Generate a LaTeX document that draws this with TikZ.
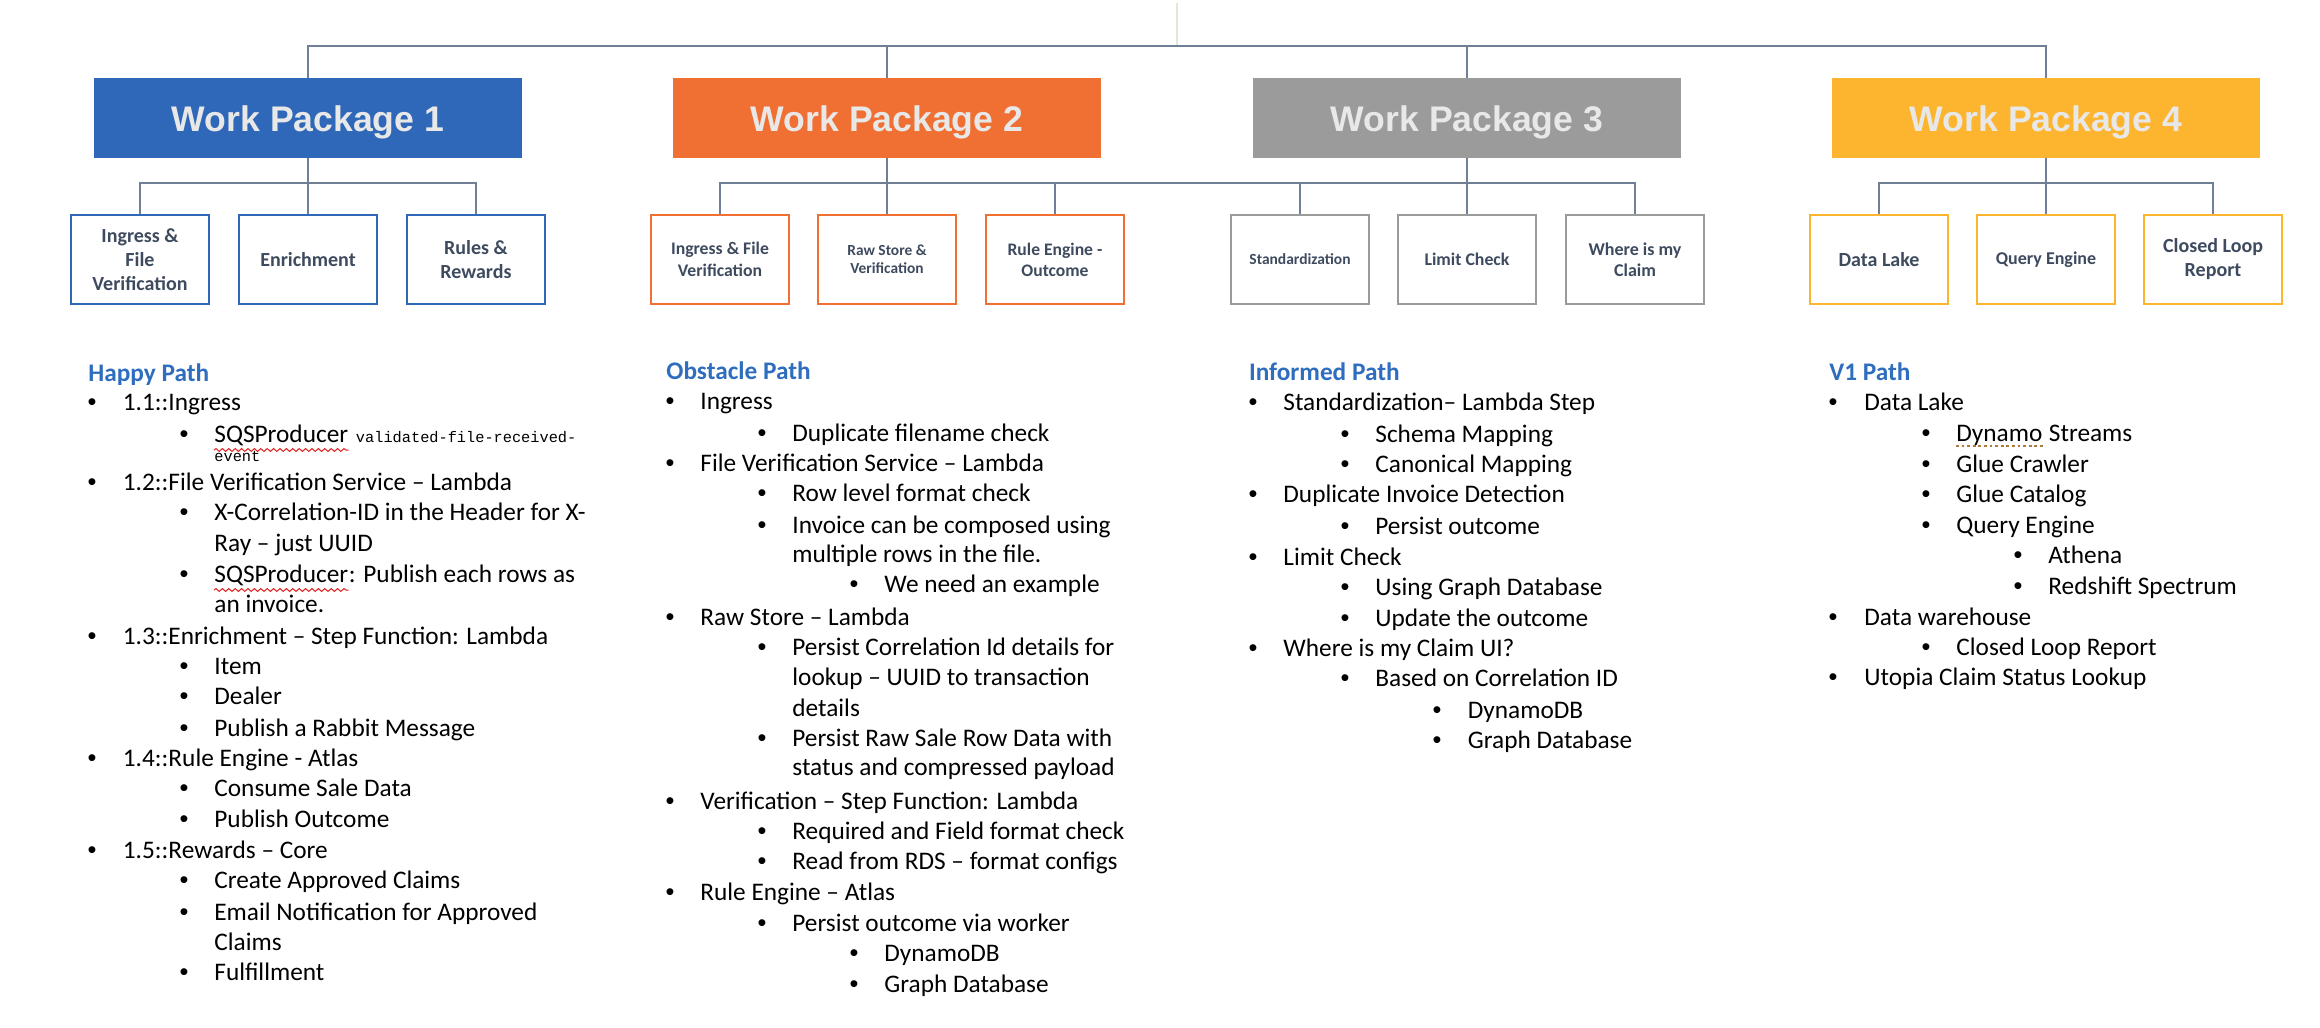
\documentclass[tikz,border=0pt]{standalone}
\usepackage{fontspec}
\setmainfont{Carlito}
\newfontfamily\wpfont{Liberation Sans}
\newfontfamily\monof{Liberation Mono}
\newfontfamily\bulfont{Liberation Sans}
\usetikzlibrary{calc,decorations.pathmorphing}

\definecolor{wpblue}{RGB}{47,104,184}
\definecolor{wporange}{RGB}{240,112,52}
\definecolor{wpgray}{RGB}{155,155,155}
\definecolor{wpyellow}{RGB}{253,181,47}
\definecolor{wptext}{RGB}{232,232,232}
\definecolor{conncol}{RGB}{110,127,150}
\definecolor{subtext}{RGB}{62,75,95}
\definecolor{headblue}{RGB}{47,110,190}
\definecolor{faintcol}{RGB}{221,232,213}
\definecolor{dotbrown}{RGB}{176,122,58}
\definecolor{squigred}{RGB}{226,30,30}

\newcommand{\fsz}[2]{\fontsize{#1pt}{#2pt}\selectfont}
\newcommand{\bodysize}{\fontsize{12.65pt}{15pt}\selectfont}
\newcommand{\bitem}[5]{%
  \node[bul] (#1b) at (#2,#4) {\textbullet};
  \node[txt] (#1) at (#3,#4) {#5};}
\newcommand{\citem}[4]{\node[txt] (#1) at (#2,#3) {#4};}

\tikzset{
  wpbox/.style={rectangle, fill=#1, minimum width=214pt, minimum height=40pt, inner sep=0pt,
    text height=13pt, text depth=0pt,
    text=wptext, font=\wpfont\bfseries\fsz{17.8}{20}},
  subbox/.style={rectangle, draw=#1, line width=0.8pt, fill=white, minimum width=69pt,
    minimum height=44.5pt, inner sep=1pt, align=center, text=subtext},
  conn/.style={draw=conncol, line width=0.7pt},
  faint/.style={draw=faintcol, line width=0.7pt},
  txt/.style={anchor=base west, inner sep=0pt, font=\bodysize},
  bul/.style={anchor=base, inner sep=0pt, font=\bulfont\bodysize},
  head/.style={anchor=base west, inner sep=0pt, font=\bodysize\bfseries, text=headblue},
  monotxt/.style={anchor=base west, inner sep=0pt, font=\monof\fsz{7.65}{9}},
  squig/.style={draw=squigred, line width=0.5pt, decorate, decoration={snake, amplitude=0.7pt, segment length=3.2pt}},
  dotline/.style={draw=dotbrown, line width=1.2pt, dash pattern=on 1.4pt off 1.4pt}
}

\begin{document}
\begin{tikzpicture}[x=0.5pt,y=-0.5pt]
\useasboundingbox (0,0) rectangle (2320,1028);
\fill[white] (0,0) rectangle (2320,1028);

\coordinate (tb) at (0,46);
\coordinate (sb) at (0,183);
\coordinate (root) at (1177,3);

% Work packages
\node[wpbox=wpblue]   (wp1) at (308,118)  {Work Package 1};
\node[wpbox=wporange] (wp2) at (887,118)  {Work Package 2};
\node[wpbox=wpgray]   (wp3) at (1467,118) {Work Package 3};
\node[wpbox=wpyellow] (wp4) at (2046,118) {Work Package 4};

% sub boxes
\node[subbox=wpblue, font=\bfseries\fsz{10}{12}] (s11) at (140,259.5) {Ingress \&\\File\\Verification};
\node[subbox=wpblue, font=\bfseries\fsz{10}{12}] (s12) at (308,259.5) {Enrichment};
\node[subbox=wpblue, font=\bfseries\fsz{10}{12}] (s13) at (476,259.5) {Rules \&\\Rewards};

\node[subbox=wporange, font=\bfseries\fsz{8.85}{10.75}] (s21) at (720,259.5) {Ingress \& File\\Verification};
\node[subbox=wporange, font=\bfseries\fsz{7.7}{9}] (s22) at (887,259.5) {Raw Store \&\\Verification};
\node[subbox=wporange, font=\bfseries\fsz{8.8}{10.5}] (s23) at (1055,259.5) {Rule Engine -\\Outcome};

\node[subbox=wpgray, font=\bfseries\fsz{7.75}{9}] (s31) at (1300,259.5) {Standardization};
\node[subbox=wpgray, font=\bfseries\fsz{8.9}{10.5}] (s32) at (1467,259.5) {Limit Check};
\node[subbox=wpgray, font=\bfseries\fsz{9}{10.5}] (s33) at (1635,259.5) {Where is my\\Claim};

\node[subbox=wpyellow, font=\bfseries\fsz{10}{12}] (s41) at (1879,259.5) {Data Lake};
\node[subbox=wpyellow, font=\bfseries\fsz{9}{11}] (s42) at (2046,259.5) {Query Engine};
\node[subbox=wpyellow, font=\bfseries\fsz{10}{12}] (s43) at (2213,259.5) {Closed Loop\\Report};

% top bus
\draw[faint] (root) -- (root |- tb);
\draw[conn] (wp1.north) -- (wp1.north |- tb) -- (wp4.north |- tb) -- (wp4.north);
\draw[conn] (wp2.north) -- (wp2.north |- tb);
\draw[conn] (wp3.north) -- (wp3.north |- tb);

% sub buses
\draw[conn] (wp1.south) -- (s12.north);
\draw[conn] (s11.north) -- (s11.north |- sb) -- (s13.north |- sb) -- (s13.north);
\draw[conn] (wp2.south) -- (s22.north);
\draw[conn] (s21.north) -- (s21.north |- sb) -- (s23.north |- sb) -- (s23.north);
\draw[conn] (s23.north |- sb) -- (s31.north |- sb);
\draw[conn] (wp3.south) -- (s32.north);
\draw[conn] (s31.north) -- (s31.north |- sb) -- (s33.north |- sb) -- (s33.north);
\draw[conn] (wp4.south) -- (s42.north);
\draw[conn] (s41.north) -- (s41.north |- sb) -- (s43.north |- sb) -- (s43.north);

% Column 1: Happy Path
\node[head] (hA) at (88,381) {Happy Path};
\bitem{a1}{92}{122.5}{410.3}{1.1::Ingress}
\bitem{a2}{184}{214}{442}{SQSProducer}
\node[monotxt] (a2m) at ($(a2.base east)+(7,0)$) {validated-file-received-};
\node[monotxt] (a2n) at (214,461) {event};
\draw[squig] ($(a2.base west)+(0,8)$) -- ($(a2.base east)+(0,8)$);
\bitem{a3}{92}{122.5}{490}{1.2::File Verification Service – Lambda}
\bitem{a4}{184}{214}{520.4}{X-Correlation-ID in the Header for X-}
\citem{a4c}{214}{551.5}{Ray – just UUID}
\bitem{a5}{184}{214}{582}{SQSProducer}
\node[txt] (a5r) at (a5.base east) {: Publish each rows as};
\draw[squig] ($(a5.base west)+(0,8)$) -- ($(a5.base east)+(0,8)$);
\citem{a5c}{214}{612}{an invoice.}
\bitem{a6}{92}{122.5}{644.9}{1.3::Enrichment – Step Function: Lambda}
\bitem{a7}{184}{214}{674.3}{Item}
\bitem{a8}{184}{214}{704.3}{Dealer}
\bitem{a9}{184}{214}{736}{Publish a Rabbit Message}
\bitem{a10}{92}{122.5}{766.3}{1.4::Rule Engine - Atlas}
\bitem{a11}{184}{214}{796.2}{Consume Sale Data}
\bitem{a12}{184}{214}{827.9}{Publish Outcome}
\bitem{a13}{92}{122.5}{858.2}{1.5::Rewards – Core}
\bitem{a14}{184}{214}{888.6}{Create Approved Claims}
\bitem{a15}{184}{214}{920.2}{Email Notification for Approved}
\citem{a15c}{214}{950.1}{Claims}
\bitem{a16}{184}{214}{980}{Fulfillment}

% Column 2: Obstacle Path
\node[head] (hB) at (666,379) {Obstacle Path};
\bitem{b1}{670}{700}{409.4}{Ingress}
\bitem{b2}{762}{792}{441}{Duplicate filename check}
\bitem{b3}{670}{700}{471}{File Verification Service – Lambda}
\bitem{b4}{762}{792}{501.3}{Row level format check}
\bitem{b5}{762}{792}{533}{Invoice can be composed using}
\citem{b5c}{792}{562.5}{multiple rows in the file.}
\bitem{b6}{854}{884}{592.8}{We need an example}
\bitem{b7}{670}{700}{625}{Raw Store – Lambda}
\bitem{b8}{762}{792}{655.3}{Persist Correlation Id details for}
\citem{b8c}{792}{685.6}{lookup – UUID to transaction}
\citem{b8d}{792}{716.4}{details}
\bitem{b9}{762}{792}{746.8}{Persist Raw Sale Row Data with}
\citem{b9c}{792}{775.8}{status and compressed payload}
\bitem{b10}{670}{700}{809.2}{Verification – Step Function: Lambda}
\bitem{b11}{762}{792}{839.6}{Required and Field format check}
\bitem{b12}{762}{792}{869}{Read from RDS – format configs}
\bitem{b13}{670}{700}{900.7}{Rule Engine – Atlas}
\bitem{b14}{762}{792}{931}{Persist outcome via worker}
\bitem{b15}{854}{884}{961}{DynamoDB}
\bitem{b16}{854}{884}{992.6}{Graph Database}

% Column 3: Informed Path
\node[head] (hC) at (1248.6,380.7) {Informed Path};
\bitem{c1}{1253}{1283}{410.7}{Standardization– Lambda Step}
\bitem{c2}{1345}{1375}{442.3}{Schema Mapping}
\bitem{c3}{1345}{1375}{472.7}{Canonical Mapping}
\bitem{c4}{1253}{1283}{502.7}{Duplicate Invoice Detection}
\bitem{c5}{1345}{1375}{534.3}{Persist outcome}
\bitem{c6}{1253}{1283}{565}{Limit Check}
\bitem{c7}{1345}{1375}{595}{Using Graph Database}
\bitem{c8}{1345}{1375}{626}{Update the outcome}
\bitem{c9}{1253}{1283}{656.7}{Where is my Claim UI?}
\bitem{c10}{1345}{1375}{686.7}{Based on Correlation ID}
\bitem{c11}{1437}{1467.5}{718.3}{DynamoDB}
\bitem{c12}{1437}{1467.5}{748.3}{Graph Database}

% Column 4: V1 Path
\node[head] (hD) at (1829,380) {V1 Path};
\bitem{d1}{1833}{1864}{410}{Data Lake}
\bitem{d2}{1926}{1956}{441.7}{Dynamo}
\node[txt] (d2r) at (d2.base east) {\ Streams};
\draw[dotline] ($(d2.base west)+(0,4.5)$) -- ($(d2.base east)+(0,4.5)$);
\bitem{d3}{1926}{1956}{472.3}{Glue Crawler}
\bitem{d4}{1926}{1956}{502.3}{Glue Catalog}
\bitem{d5}{1926}{1956}{533.3}{Query Engine}
\bitem{d6}{2018}{2048}{563.3}{Athena}
\bitem{d7}{2018}{2048}{594}{Redshift Spectrum}
\bitem{d8}{1833}{1864}{625.7}{Data warehouse}
\bitem{d9}{1926}{1956}{655.7}{Closed Loop Report}
\bitem{d10}{1833}{1864}{685.7}{Utopia Claim Status Lookup}
\end{tikzpicture}
\end{document}
